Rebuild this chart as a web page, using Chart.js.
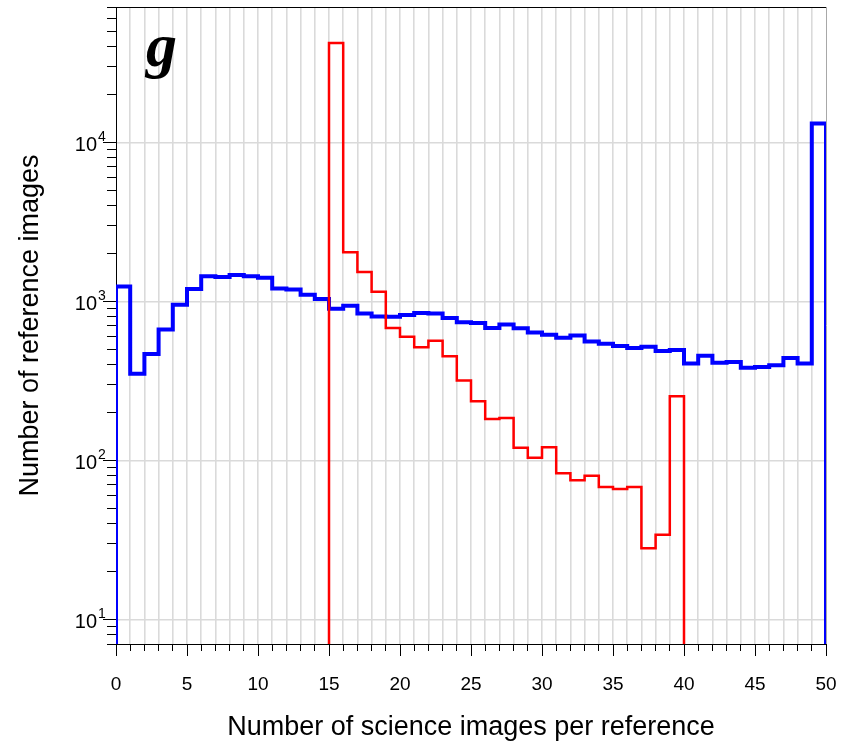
<!DOCTYPE html>
<html>
<head>
<meta charset="utf-8">
<title>Reference image counts</title>
<script src="https://cdn.jsdelivr.net/npm/chart.js@4/dist/chart.umd.min.js"></script>
<style>
  html, body { margin: 0; padding: 0; background: #fff; }
  #wrap { width: 842px; height: 745px; }
</style>
</head>
<body>
<div id="wrap"><canvas id="histChart" width="842" height="745"></canvas></div>
<script>
// bin i covers [i, i+1) science images per reference
const blueStart = 0;
const blueCounts = [1240, 350, 467, 666, 952, 1195, 1441, 1421, 1463, 1441,
                    1406, 1205, 1188, 1099, 1033, 899, 938, 840, 804, 800,
                    820, 845, 840, 785, 738, 730, 680, 716, 678, 638,
                    617, 590, 611, 560, 542, 524, 509, 519, 488, 494,
                    406, 455, 411, 416, 383, 387, 396, 440, 406, 13160];

const redStart = 15;
const redCounts = [42200, 2040, 1530, 1150, 680, 600, 514, 566, 451, 318,
                   235, 182, 185, 120, 104, 121, 83, 75, 80, 68,
                   66, 68, 28, 34, 253];

const xTickLabels = [0, 5, 10, 15, 20, 25, 30, 35, 40, 45, 50];
const yDecades = [10, 100, 1000, 10000];
const yMin = 7;
const yMax = 71000;
const floorValue = 1; // below the axis, gets clipped
const panelLetter = 'g';

const FONT = '"Liberation Sans", Arial, Helvetica, sans-serif';
const GRID = '#dadada';

// outline of a histogram: up from the floor, across every bin, back down
function toSteps(start, counts) {
    const pts = [{ x: start, y: floorValue }];
    counts.forEach((c, i) => pts.push({ x: start + i, y: c }));
    pts.push({ x: start + counts.length, y: floorValue });
    return pts;
}

function align(px) {
    return Math.round(px - 0.5) + 0.5;
}

const frameAndTicks = {
    id: 'frameAndTicks',
    beforeDatasetsDraw(chart) {
        const { ctx, chartArea: a } = chart;
        ctx.save();
        ctx.lineWidth = 1;
        ctx.strokeStyle = '#000';
        ctx.beginPath();
        ctx.moveTo(a.left, align(a.top));
        ctx.lineTo(a.right, align(a.top));
        ctx.stroke();
        ctx.strokeStyle = '#a8a8a8';
        ctx.beginPath();
        ctx.moveTo(align(a.right), a.top);
        ctx.lineTo(align(a.right), a.bottom);
        ctx.stroke();
        ctx.restore();
    },
    afterDraw(chart) {
        const { ctx, chartArea: a, scales: { x, y } } = chart;
        ctx.save();
        ctx.strokeStyle = '#000';
        ctx.lineWidth = 1;

        // x ticks, long every 5
        ctx.beginPath();
        for (let i = x.min; i <= x.max; i++) {
            const px = align(x.getPixelForValue(i));
            const len = i % 5 === 0 ? 12 : 7;
            ctx.moveTo(px, a.bottom);
            ctx.lineTo(px, a.bottom + len);
        }
        ctx.stroke();

        // y ticks: decades long, 2..9 short
        ctx.beginPath();
        [1, 10, 100, 1000, 10000].forEach(d => {
            for (let m = 1; m <= 9; m++) {
                const v = d * m;
                if (v < yMin || v > yMax) continue;
                const py = align(y.getPixelForValue(v));
                const len = m === 1 ? 13 : 9;
                ctx.moveTo(a.left - len, py);
                ctx.lineTo(a.left, py);
            }
        });
        ctx.stroke();

        // y labels as 10 with a raised exponent
        ctx.fillStyle = '#000';
        yDecades.forEach(v => {
            const py = y.getPixelForValue(v);
            const exp = String(Math.round(Math.log10(v)));
            ctx.font = '20px ' + FONT;
            ctx.textAlign = 'right';
            ctx.textBaseline = 'middle';
            ctx.fillText('10', 97, py + 3);
            ctx.font = '14px ' + FONT;
            ctx.textAlign = 'left';
            ctx.textBaseline = 'alphabetic';
            ctx.fillText(exp, 98, py - 1);
        });

        // panel letter
        ctx.font = 'bold italic 62px "Liberation Serif", "Times New Roman", serif';
        ctx.textAlign = 'left';
        ctx.textBaseline = 'alphabetic';
        ctx.fillText(panelLetter, 146, 66);
        ctx.restore();
    }
};

const ctx = document.getElementById('histChart').getContext('2d');
const histChart = new Chart(ctx, {
    type: 'line',
    data: {
        datasets: [
            {
                label: 'red',
                data: toSteps(redStart, redCounts),
                borderColor: '#ff0000',
                borderWidth: 2.5,
                stepped: true,
                pointRadius: 0,
                fill: false,
                borderJoinStyle: 'miter',
                clip: 0,
            },
            {
                label: 'blue',
                data: toSteps(blueStart, blueCounts),
                borderColor: '#0000ff',
                borderWidth: 4,
                stepped: true,
                pointRadius: 0,
                fill: false,
                borderJoinStyle: 'miter',
                clip: 0,
            },
        ],
    },
    options: {
        responsive: false,
        animation: false,
        events: [],
        layout: { padding: { left: 0, right: 16, top: 7, bottom: 0 } },
        plugins: {
            legend: { display: false },
            tooltip: { enabled: false },
        },
        scales: {
            x: {
                type: 'linear',
                position: 'bottom',
                min: 0,
                max: 50,
                afterFit: (scale) => {
                    scale.height = 101;
                    scale.paddingLeft = 0;
                    scale.paddingRight = 0;
                },
                grid: {
                    drawTicks: false,
                    color: (c) => (c.tick && (c.tick.value === 0 || c.tick.value === 50)) ? 'rgba(0,0,0,0)' : GRID,
                    lineWidth: 1.6,
                },
                border: { display: true, color: '#000', width: 1 },
                ticks: {
                    stepSize: 1,
                    autoSkip: false,
                    maxRotation: 0,
                    padding: 29,
                    color: '#000',
                    font: { family: FONT, size: 19 },
                    callback: (v) => xTickLabels.includes(v) ? String(v) : '',
                },
                title: {
                    display: true,
                    text: 'Number of science images per reference',
                    color: '#000',
                    font: { family: FONT, size: 27 },
                    padding: { top: 0, bottom: 1 },
                },
            },
            y: {
                type: 'logarithmic',
                min: yMin,
                max: yMax,
                afterBuildTicks: (scale) => { scale.ticks = yDecades.map(v => ({ value: v })); },
                afterFit: (scale) => { scale.width = 116; },
                grid: { drawTicks: false, color: GRID, lineWidth: 1.6 },
                border: { display: true, color: '#000', width: 1 },
                ticks: { display: false },
                title: {
                    display: true,
                    text: 'Number of reference images',
                    color: '#000',
                    font: { family: FONT, size: 27 },
                    padding: { top: 14, bottom: 0 },
                },
            },
        },
    },
    plugins: [frameAndTicks],
});
</script>
</body>
</html>
